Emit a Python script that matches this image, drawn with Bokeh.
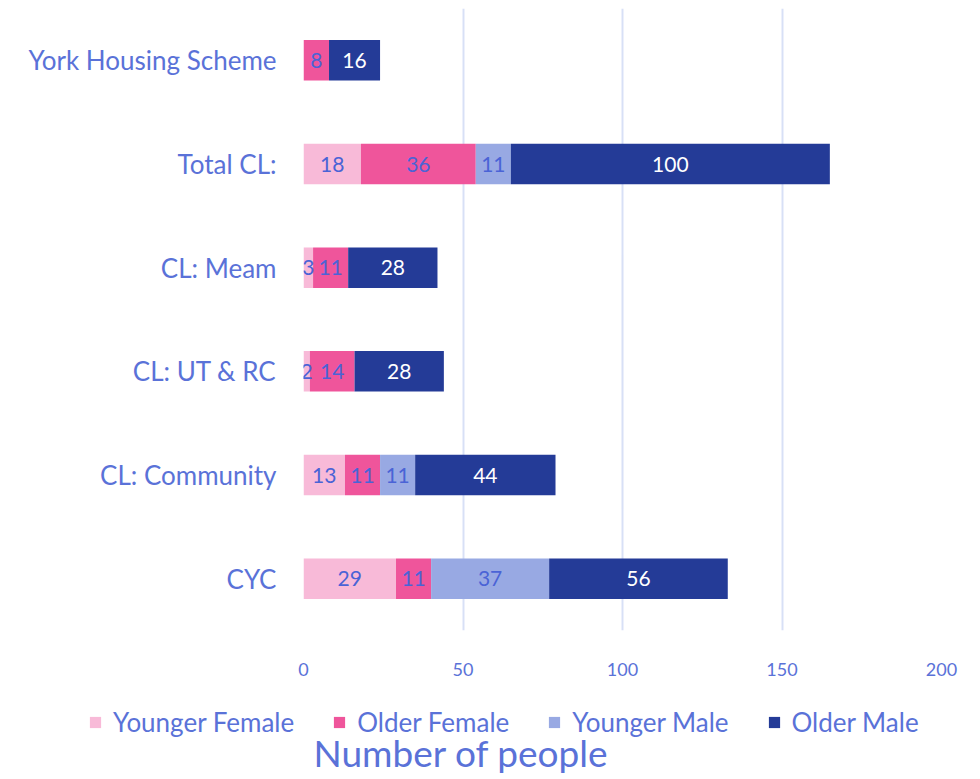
from bokeh.plotting import figure
from bokeh.layouts import column
from bokeh.models import ColumnDataSource, Legend, LegendItem, Label, Range1d, FixedTicker, FactorRange
from bokeh.core.properties import value
from bokeh.embed import file_html
from bokeh.resources import INLINE

categories = ["CYC", "CL: Community", "CL: UT & RC", "CL: Meam", "Total CL:", "York Housing Scheme"]
younger_female = [29, 13, 2, 3, 18, 0]
older_female = [11, 11, 14, 11, 36, 8]
younger_male = [37, 11, 0, 0, 11, 0]
older_male = [56, 44, 28, 28, 100, 16]
series_names = ["Younger Female", "Older Female", "Younger Male", "Older Male"]
x_ticks = [0, 50, 100, 150, 200]
x_title = "Number of people"

colors = ["#f8bad8", "#ef559b", "#98a9e3", "#243b97"]
label_colors = ["#4a63d6", "#4a63d6", "#4a63d6", "#ffffff"]
TEXT = "#5a72d8"
FONT = "Lato"

series = [younger_female, older_female, younger_male, older_male]
keys = ["yf", "of", "ym", "om"]
data = {"cat": categories}
for k, s in zip(keys, series):
    data[k] = s
source = ColumnDataSource(data)

p = figure(width=975, height=686, y_range=FactorRange(factors=categories),
           x_range=Range1d(0, 200), output_backend="svg", toolbar_location=None,
           min_border_left=303, min_border_right=34, min_border_top=8, min_border_bottom=56)
p.outline_line_color = None
p.frame_align = False

renderers = p.hbar_stack(keys, y="cat", height=0.39, color=colors, line_color=None, source=source)

# segment labels
for i, (k, s) in enumerate(zip(keys, series)):
    xs, ys, ts = [], [], []
    for j, cat in enumerate(categories):
        v = s[j]
        if v == 0:
            continue
        start = sum(series[m][j] for m in range(i))
        xs.append(start + v / 2)
        ys.append(cat)
        ts.append(str(v))
    p.text(x=xs, y=ys, text=ts, text_align="center", text_baseline="middle",
           text_color=label_colors[i], text_font=value(FONT), text_font_size="21px")

p.xaxis.ticker = FixedTicker(ticks=x_ticks)
p.xaxis.axis_line_color = None
p.xaxis.major_tick_line_color = None
p.xaxis.minor_tick_line_color = None
p.xaxis.major_label_text_color = TEXT
p.xaxis.major_label_text_font = FONT
p.xaxis.major_label_text_font_size = "18px"
p.xaxis.major_label_standoff = 26

p.yaxis.axis_line_color = None
p.yaxis.major_tick_line_color = None
p.yaxis.major_label_text_color = TEXT
p.yaxis.major_label_text_font = FONT
p.yaxis.major_label_text_font_size = "26px"
p.yaxis.major_label_standoff = 21

p.xgrid.grid_line_color = "#d8e0f6"
p.xgrid.grid_line_width = 2
p.xgrid.ticker = FixedTicker(ticks=x_ticks)
p.ygrid.grid_line_color = None

# legend + axis title strip (legend swatches come from the same stacked data,
# drawn outside this strip's visible x range)
f2 = figure(width=975, height=92, x_range=Range1d(-2, -1), y_range=FactorRange(factors=categories),
            output_backend="svg", toolbar_location=None,
            min_border_left=0, min_border_right=0, min_border_top=0, min_border_bottom=0)
f2.frame_align = False
f2.axis.visible = False
f2.grid.grid_line_color = None
f2.outline_line_color = None
swatches = f2.hbar_stack(keys, y="cat", height=0.39, color=colors, line_color=None, source=source)
items = [LegendItem(label=n, renderers=[r]) for n, r in zip(series_names, swatches)]
legend = Legend(items=items, orientation="horizontal", location=(88, 40),
                padding=0, margin=0, spacing=38, label_standoff=11,
                glyph_width=14, glyph_height=14, label_text_font=FONT,
                label_text_font_size="26px", label_text_color=TEXT,
                border_line_color=None, background_fill_alpha=0)
f2.add_layout(legend, "center")
f2.add_layout(Label(x=313, y=26, x_units="screen", y_units="screen", text=x_title,
                    text_baseline="middle", text_align="left", text_font=FONT,
                    text_font_size="37px", text_color=TEXT))

layout = column(p, f2, spacing=0)
open("out.html", "w").write(file_html(layout, INLINE))
